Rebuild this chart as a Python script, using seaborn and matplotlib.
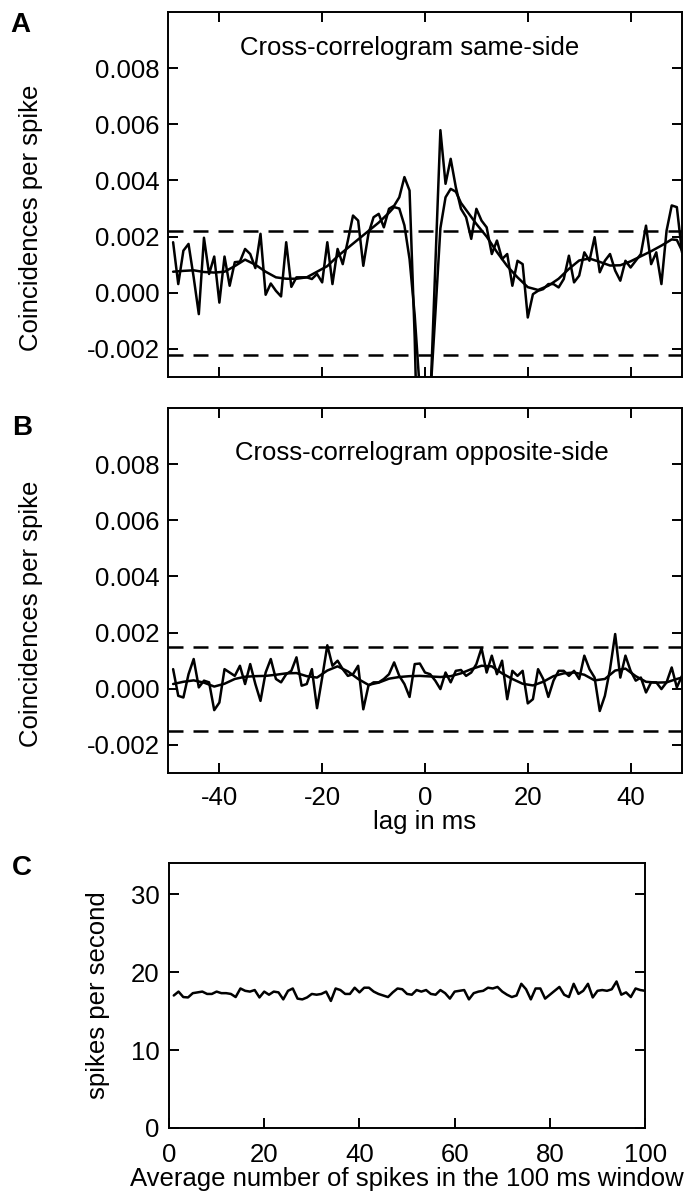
import numpy as np
import pandas as pd
import matplotlib
matplotlib.use("Agg")
import matplotlib.pyplot as plt
import seaborn as sns

# ---------------- data ----------------
lags = list(range(-49, 51))

# Panel A raw cross-correlogram (same side), x1e-3
same_raw = [1.80, 0.31, 1.50, 1.74, 0.55, -0.76, 1.96, 0.67, 1.29, -0.35,
            1.29, 0.25, 1.09, 1.11, 1.56, 1.38, 0.88, 2.10, -0.07, 0.33,
            0.07, -0.13, 1.80, 0.21, 0.55, 0.55, 0.55, 0.49, 0.67, 0.37,
            1.80, 0.31, 1.56, 1.02, 1.86, 2.75, 2.57, 0.96, 2.10, 2.69,
            2.81, 2.33, 2.99, 3.10, 3.40, 4.12, 3.64, -1.60, -9.0, -9.0,
            -4.0, 0.90, 5.79, 3.88, 4.77, 3.76, 2.99, 2.69, 1.92, 2.99,
            2.57, 2.33, 1.38, 1.86, 1.20, 1.38, 0.25, 1.14, 1.02, -0.88,
            -0.05, 0.07, 0.13, 0.31, 0.31, 0.19, 0.49, 1.32, 0.37, 0.61,
            1.44, 1.14, 1.98, 0.73, 1.14, 1.38, 0.79, 0.43, 1.14, 0.90,
            1.14, 1.38, 2.39, 1.02, 1.44, 0.31, 2.21, 3.11, 3.05, 1.44]

same_smooth_lags = [-49, -47, -45, -43, -41, -39, -37, -35, -33, -31, -29, -27,
                    -25, -23, -21, -19, -17, -15, -13, -11, -9, -7, -6, -5, -4,
                    -3, -2, -1, 0, 1, 2, 3, 4, 5, 6, 7, 8, 10, 12, 14, 16, 18,
                    20, 22, 24, 26, 28, 30, 32, 34, 36, 38, 40, 42, 44, 46, 48,
                    49, 50]
same_smooth = [0.75, 0.78, 0.80, 0.74, 0.72, 0.75, 0.95, 1.18, 1.00, 0.75,
               0.55, 0.50, 0.50, 0.55, 0.75, 0.95, 1.30, 1.60, 1.90, 2.20,
               2.50, 2.85, 3.05, 3.00, 2.40, 1.20, -0.80, -3.50, -5.00, -3.80,
               -0.80, 2.30, 3.40, 3.70, 3.60, 3.20, 2.95, 2.45, 2.00, 1.45,
               0.95, 0.55, 0.20, 0.10, 0.25, 0.50, 0.85, 1.15, 1.22, 1.10,
               0.97, 0.98, 1.12, 1.30, 1.48, 1.68, 1.90, 1.88, 1.50]

# Panel B raw cross-correlogram (opposite side), x1e-3
opp_raw = [0.70, -0.25, -0.31, 0.52, 1.06, 0.05, 0.29, 0.23, -0.76, -0.49,
           0.70, 0.58, 0.46, 0.82, 0.17, 0.88, 0.17, -0.43, 0.58, 1.06,
           0.35, 0.23, 0.52, 0.64, 1.12, 0.11, 0.17, 0.70, -0.69, 0.40,
           1.55, 0.82, 1.00, 0.70, 0.46, 0.52, 0.82, -0.73, 0.11, 0.23,
           0.23, 0.35, 0.52, 0.94, 0.46, 0.17, -0.29, 0.88, 0.90, 0.58,
           0.52, 0.29, -0.01, 0.58, 0.23, 0.64, 0.67, 0.46, 0.58, 0.88,
           1.45, 0.58, 1.18, 0.52, 1.00, -0.37, 0.64, 0.46, 0.64, -0.52,
           -0.37, 0.70, 0.35, -0.29, 0.29, 0.64, 0.64, 0.46, 0.64, 0.35,
           1.18, 0.70, 0.40, -0.79, -0.25, 0.70, 1.95, 0.40, 1.18, 0.64,
           0.29, 0.40, -0.13, 0.23, 0.23, -0.01, 0.23, 0.76, 0.05, 0.46]

opp_smooth_lags = [-49, -47, -45, -43, -41, -39, -37, -35, -33, -31, -29, -27,
                   -25, -23, -21, -19, -17, -15, -13, -11, -9, -7, -5, -3, -1,
                   1, 3, 5, 7, 9, 11, 13, 15, 17, 19, 21, 23, 25, 27, 29, 31,
                   33, 35, 37, 39, 41, 43, 45, 47, 49, 50]
opp_smooth = [0.17, 0.25, 0.30, 0.22, 0.08, 0.18, 0.35, 0.43, 0.45, 0.46,
              0.50, 0.55, 0.56, 0.45, 0.40, 0.65, 0.80, 0.62, 0.35, 0.14,
              0.22, 0.36, 0.42, 0.45, 0.46, 0.44, 0.42, 0.45, 0.55, 0.70,
              0.82, 0.80, 0.55, 0.35, 0.18, 0.12, 0.25, 0.45, 0.55, 0.58,
              0.50, 0.30, 0.35, 0.65, 0.72, 0.45, 0.25, 0.22, 0.23, 0.35, 0.40]

# Panel C firing rate
n_spikes = list(range(1, 101))
rate = [17.0, 17.5, 16.8, 16.75, 17.3, 17.4, 17.5, 17.2, 17.2, 17.5,
        17.3, 17.3, 17.2, 16.8, 17.9, 17.6, 17.5, 17.7, 16.75, 17.5,
        17.1, 17.5, 17.4, 16.5, 17.6, 17.9, 16.6, 16.5, 16.75, 17.2,
        17.1, 17.2, 17.5, 16.3, 17.9, 17.7, 17.2, 17.2, 18.0, 17.4,
        18.0, 18.0, 17.5, 17.2, 17.0, 16.8, 17.4, 17.9, 17.8, 17.2,
        17.1, 17.7, 17.5, 17.7, 17.2, 17.1, 17.7, 17.3, 16.6, 17.5,
        17.6, 17.7, 16.5, 17.3, 17.5, 17.6, 18.0, 17.9, 18.1, 17.5,
        17.1, 16.8, 17.0, 18.5, 17.8, 16.5, 17.9, 17.9, 16.6, 17.1,
        17.6, 18.1, 17.1, 16.8, 18.5, 17.2, 17.6, 18.5, 16.75, 17.6,
        17.7, 17.6, 17.8, 18.8, 17.1, 17.4, 16.8, 17.9, 17.7, 17.6]

same_thresh = 0.0022
opp_thresh = 0.0015

# ---------------- style ----------------
sns.set_style("ticks")
plt.rcParams['font.family'] = ['Liberation Sans', 'DejaVu Sans']
plt.rcParams['axes.linewidth'] = 1.4
plt.rcParams['axes.edgecolor'] = 'black'
plt.rcParams['text.color'] = 'black'
plt.rcParams['axes.labelcolor'] = 'black'
plt.rcParams['xtick.color'] = 'black'
plt.rcParams['ytick.color'] = 'black'
plt.rcParams['axes.unicode_minus'] = False
FS = 18.5
LW = 1.8

fig = plt.figure(figsize=(6.87, 11.95), dpi=100)
axA = fig.add_axes([0.2445, 0.6845, 0.7482, 0.3055])
axB = fig.add_axes([0.2445, 0.3531, 0.7482, 0.3055])
axC = fig.add_axes([0.246, 0.0561, 0.693, 0.2217])

def corr_panel(ax, raw, sm_lags, sm, thresh, title, tx, ty):
    raw_df = pd.DataFrame({"lag": lags, "val": np.array(raw) * 1e-3})
    sm_df = pd.DataFrame({"lag": sm_lags, "val": np.array(sm) * 1e-3})
    sns.lineplot(data=raw_df, x="lag", y="val", ax=ax, color="black", lw=LW)
    sns.lineplot(data=sm_df, x="lag", y="val", ax=ax, color="black", lw=LW)
    for t in (thresh, -thresh):
        ax.axhline(t, color="black", lw=LW, dashes=(6, 4))
    ax.set_xlim(-50, 50)
    ax.set_ylim(-0.003, 0.010)
    ax.set_xticks([-40, -20, 0, 20, 40])
    ax.set_yticks([-0.002, 0.000, 0.002, 0.004, 0.006, 0.008])
    ax.set_yticklabels([f"{v:.3f}" for v in [-0.002, 0.000, 0.002, 0.004, 0.006, 0.008]])
    ax.tick_params(direction="in", length=7, width=1.4, top=True, right=True,
                   labelsize=FS, pad=6)
    ax.set_ylabel("Coincidences per spike", fontsize=FS)
    ax.yaxis.set_label_coords(-0.243, 0.435)
    ax.set_xlabel("")
    ax.text(tx, ty, title, ha="center", va="center", fontsize=FS)

corr_panel(axA, same_raw, same_smooth_lags, same_smooth, same_thresh,
           "Cross-correlogram same-side", -3, 0.00872)
axA.tick_params(labelbottom=False)

corr_panel(axB, opp_raw, opp_smooth_lags, opp_smooth, opp_thresh,
           "Cross-correlogram opposite-side", -0.7, 0.0084)
axB.tick_params(axis="x", pad=9)
axB.set_xlabel("lag in ms", fontsize=FS, labelpad=0)

c_df = pd.DataFrame({"n": n_spikes, "rate": rate})
sns.lineplot(data=c_df, x="n", y="rate", ax=axC, color="black", lw=LW)
axC.set_xlim(0, 100)
axC.set_ylim(0, 34)
axC.set_xticks([0, 20, 40, 60, 80, 100])
axC.set_yticks([0, 10, 20, 30])
axC.tick_params(direction="in", length=7, width=1.4, top=False, right=True,
                labelsize=FS, pad=7)
axC.tick_params(axis="x", pad=11)
axC.set_xlabel("Average number of spikes in the 100 ms window", fontsize=FS, labelpad=0)
axC.set_ylabel("spikes per second", fontsize=FS)
axC.yaxis.set_label_coords(-0.124, 0.5)

for lbl, x, y in [("A", 0.015, 1 - 25 / 1195), ("B", 0.017, 1 - 428 / 1195),
                  ("C", 0.017, 1 - 868 / 1195)]:
    fig.text(x, y, lbl, fontsize=20, fontweight="bold", ha="left", va="center")

fig.savefig("out.png", dpi=100)
